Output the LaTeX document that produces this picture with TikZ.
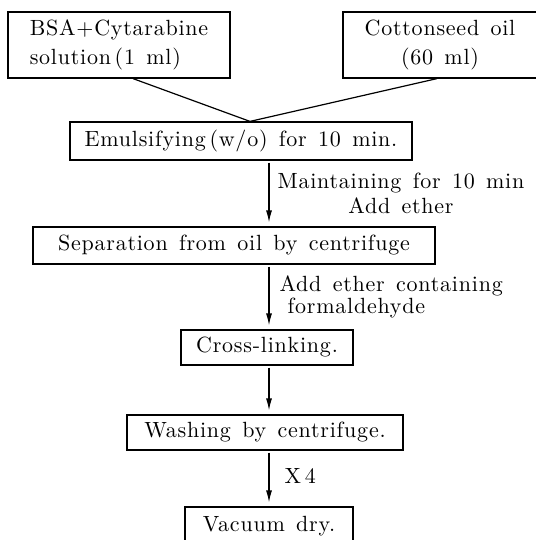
\documentclass[tikz,border=0pt]{standalone}
\usepackage{fontspec}
\setmainfont{Latin Modern Roman}[LetterSpace=3.5,WordSpace=1.4]
\usetikzlibrary{arrows.meta}

\begin{document}
\begin{tikzpicture}[x=0.5pt, y=-0.5pt, font=\fontsize{11}{12.5}\selectfont,
    box/.style={draw, line width=0.6pt, inner sep=0pt, font=\fontsize{11}{14.5}\selectfont},
    arr/.style={-{Latex[length=6pt,width=3pt]}, line width=0.6pt, shorten >=2pt, shorten <=1pt},
    lbl/.style={right, inner sep=0pt}]
  \useasboundingbox (0,0) rectangle (535,540);
  \node[box, minimum width=111pt, minimum height=33pt, align=left] (bsa) at (119,45)
    {BSA+Cytarabine\\solution\,(1 ml)};
  \node[box, minimum width=97pt, minimum height=33pt, align=center] (oil) at (440,45)
    {Cottonseed oil\\(60 ml)};
  \node[box, minimum width=171pt, minimum height=19pt] (emul) at (241,141)
    {Emulsifying\,(w/o) for 10 min.};
  \node[box, minimum width=201pt, minimum height=18.5pt] (sep) at (234,245.5)
    {Separation from oil by centrifuge};
  \node[box, minimum width=86pt, minimum height=17.5pt] (cross) at (267,347.5)
    {Cross-linking.};
  \node[box, minimum width=138pt, minimum height=17.5pt] (wash) at (265,432.5)
    {Washing by centrifuge.};
  \node[box, minimum width=84pt, minimum height=19pt] (vac) at (269,526)
    {Vacuum dry.};
  \coordinate (meet) at ([xshift=4.5pt]emul.north);
  \draw[line width=0.6pt] ([xshift=7pt]bsa.south) -- (meet) -- ([xshift=-1.5pt]oil.south);
  \draw[arr] (emul.south -| vac.north) -- node[lbl, xshift=4pt, align=center]
    {Maintaining for 10 min\\Add ether} (sep.north -| vac.north);
  \draw[arr] (sep.south -| vac.north) -- node[lbl, xshift=5pt, align=left,
    font=\fontsize{11}{11}\selectfont]
    {Add ether containing\\\hspace*{4pt}formaldehyde} (cross.north -| vac.north);
  \draw[arr] (cross.south -| vac.north) -- (wash.north -| vac.north);
  \draw[arr] (wash.south -| vac.north) -- node[lbl, xshift=7.5pt, yshift=1.5pt] {X\,4}
    (vac.north);
\end{tikzpicture}
\end{document}
